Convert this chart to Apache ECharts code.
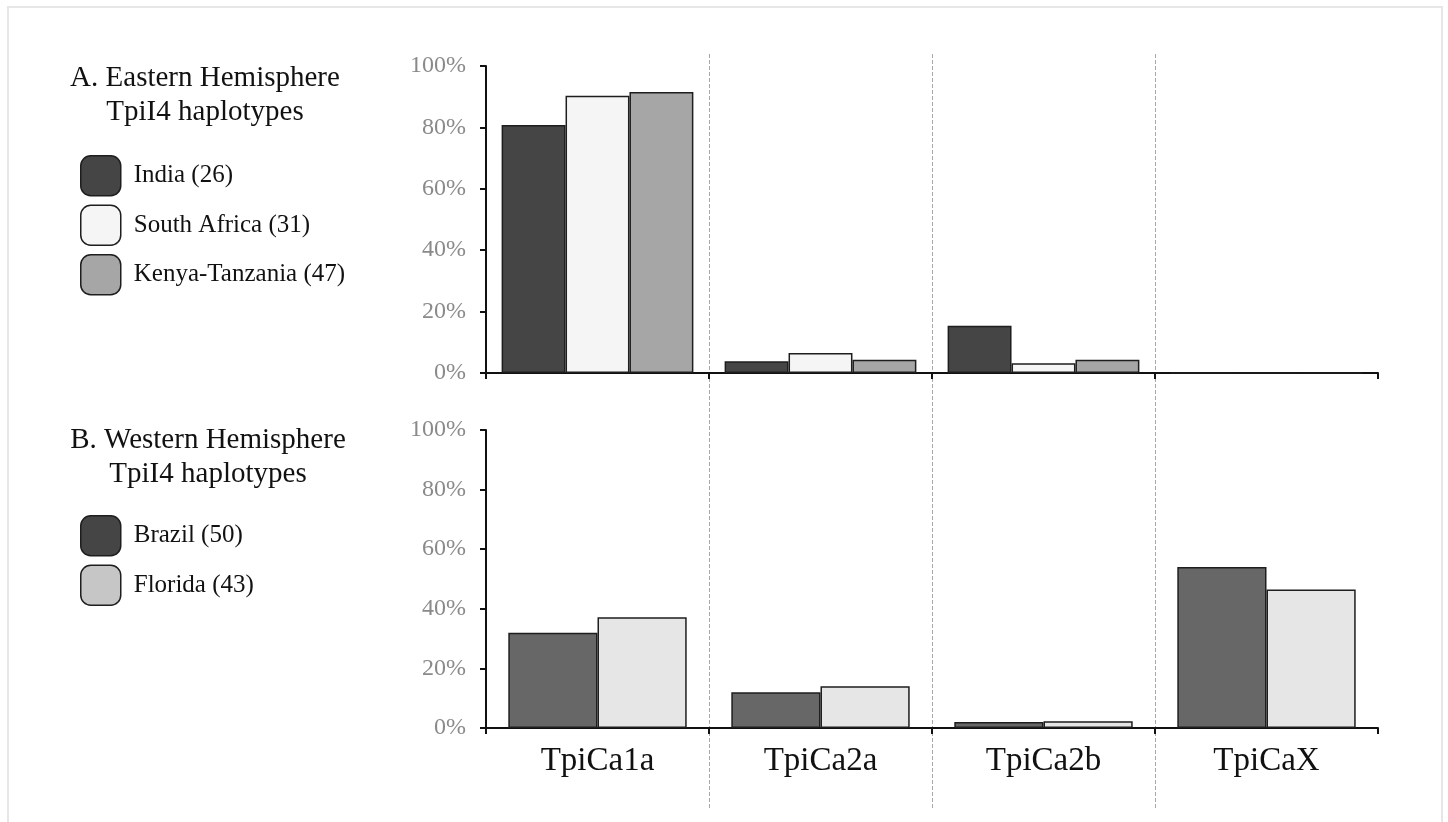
<!DOCTYPE html>
<html>
<head>
<meta charset="utf-8">
<script src="https://cdn.jsdelivr.net/npm/echarts@6/dist/echarts.min.js"></script>
<style>
  html, body { margin: 0; padding: 0; background: #ffffff; }
  #frame { position: absolute; left: 7px; top: 6px; width: 1436px; height: 840px; border: 2px solid #e6e6e6; box-sizing: border-box; }
  #chart { position: absolute; left: 0; top: 0; width: 1448px; height: 822px; }
</style>
</head>
<body>
<div id="frame"></div>
<div id="chart"></div>
<script>
// ---- data ----
const categories = ['TpiCa1a', 'TpiCa2a', 'TpiCa2b', 'TpiCaX'];
const yTicks = [0, 20, 40, 60, 80, 100];
// Panel A: Eastern Hemisphere (% of haplotypes)
const india = [80.8, 3.8, 15.4, 0];
const southAfrica = [90.3, 6.5, 3.2, 0];
const kenyaTanzania = [91.5, 4.3, 4.3, 0];
// Panel B: Western Hemisphere
const brazil = [32.0, 12.0, 2.0, 54.0];
const florida = [37.2, 14.0, 2.3, 46.5];

const nameIndia = 'India (26)';
const nameSA = 'South Africa (31)';
const nameKenya = 'Kenya-Tanzania (47)';
const nameBrazil = 'Brazil (50)';
const nameFlorida = 'Florida (43)';

const titleA1 = 'A. Eastern Hemisphere';
const titleA2 = 'TpiI4 haplotypes';
const titleB1 = 'B. Western Hemisphere';
const titleB2 = 'TpiI4 haplotypes';

// ---- styles ----
const serif = '"Liberation Serif", "DejaVu Serif", serif';
const border = { borderColor: '#1e1e1e', borderWidth: 1.5 };

const chart = echarts.init(document.getElementById('chart'), null, { renderer: 'canvas' });

function valueAxis(gridIndex) {
  return {
    type: 'value', gridIndex: gridIndex, min: yTicks[0], max: yTicks[yTicks.length - 1], interval: yTicks[1] - yTicks[0],
    axisLine: { show: true, lineStyle: { color: '#111', width: 2 } },
    axisTick: { show: true, length: 6, lineStyle: { color: '#111', width: 2 } },
    axisLabel: { formatter: '{value}%', color: '#8a8a8a', fontFamily: serif, fontSize: 24, margin: 20 },
    splitLine: { show: false }
  };
}
function catAxis(gridIndex, showLabels) {
  return {
    type: 'category', gridIndex: gridIndex, data: categories,
    axisLine: { show: true, lineStyle: { color: '#111', width: 2 } },
    axisTick: { show: true, length: 6, alignWithLabel: false, lineStyle: { color: '#111', width: 2 } },
    axisLabel: { show: showLabels, color: '#111', fontFamily: serif, fontSize: 33, margin: 17 },
    splitLine: { show: false }
  };
}

const legendText = { fontFamily: serif, fontSize: 25, color: '#111', padding: [0, 0, 0, 8] };

const option = {
  animation: false,
  title: [
    { text: titleA1 + '\n' + titleA2, left: 200, top: 56, textAlign: 'center',
      textStyle: { fontFamily: serif, fontSize: 29, fontWeight: 'normal', color: '#111', lineHeight: 34 } },
    { text: titleB1 + '\n' + titleB2, left: 203, top: 418, textAlign: 'center',
      textStyle: { fontFamily: serif, fontSize: 29, fontWeight: 'normal', color: '#111', lineHeight: 34 } }
  ],
  legend: [
    { orient: 'vertical', left: 80, top: 155, padding: 0, itemWidth: 40, itemHeight: 40, itemGap: 8,
      icon: 'roundRect', selectedMode: false,
      itemStyle: border,
      textStyle: legendText,
      data: [nameIndia, nameSA, nameKenya] },
    { orient: 'vertical', left: 80, top: 515, padding: 0, itemWidth: 40, itemHeight: 40, itemGap: 8,
      icon: 'roundRect', selectedMode: false,
      itemStyle: border,
      textStyle: legendText,
      data: [
        { name: nameBrazil, itemStyle: { color: '#454545' } },
        { name: nameFlorida, itemStyle: { color: '#c6c6c6' } }
      ] }
  ],
  grid: [
    { left: 486, right: 70, top: 66, height: 307 },
    { left: 486, right: 70, top: 430, height: 298 },
    { left: 486, right: 70, top: 54, bottom: 14 }
  ],
  xAxis: [
    catAxis(0, false),
    catAxis(1, true),
    { type: 'category', gridIndex: 2, data: categories,
      axisLine: { show: false }, axisTick: { show: false }, axisLabel: { show: false },
      splitLine: { show: true, showMinLine: false, showMaxLine: false,
        lineStyle: { color: '#a8a8a8', width: 1, type: [4, 2] } } }
  ],
  yAxis: [
    valueAxis(0),
    valueAxis(1),
    { type: 'value', gridIndex: 2, show: false, min: 0, max: 1 }
  ],
  series: [
    { name: nameIndia, type: 'bar', xAxisIndex: 0, yAxisIndex: 0, data: india,
      barGap: '0%', barCategoryGap: '14%', itemStyle: Object.assign({ color: '#454545' }, border) },
    { name: nameSA, type: 'bar', xAxisIndex: 0, yAxisIndex: 0, data: southAfrica,
      barGap: '0%', barCategoryGap: '14%', itemStyle: Object.assign({ color: '#f5f5f5' }, border) },
    { name: nameKenya, type: 'bar', xAxisIndex: 0, yAxisIndex: 0, data: kenyaTanzania,
      barGap: '0%', barCategoryGap: '14%', itemStyle: Object.assign({ color: '#a6a6a6' }, border) },
    { name: nameBrazil, type: 'bar', xAxisIndex: 1, yAxisIndex: 1, data: brazil,
      barGap: '0%', barCategoryGap: '20%', itemStyle: Object.assign({ color: '#676767' }, border) },
    { name: nameFlorida, type: 'bar', xAxisIndex: 1, yAxisIndex: 1, data: florida,
      barGap: '0%', barCategoryGap: '20%', itemStyle: Object.assign({ color: '#e6e6e6' }, border) }
  ]
};
chart.setOption(option);
</script>
</body>
</html>
